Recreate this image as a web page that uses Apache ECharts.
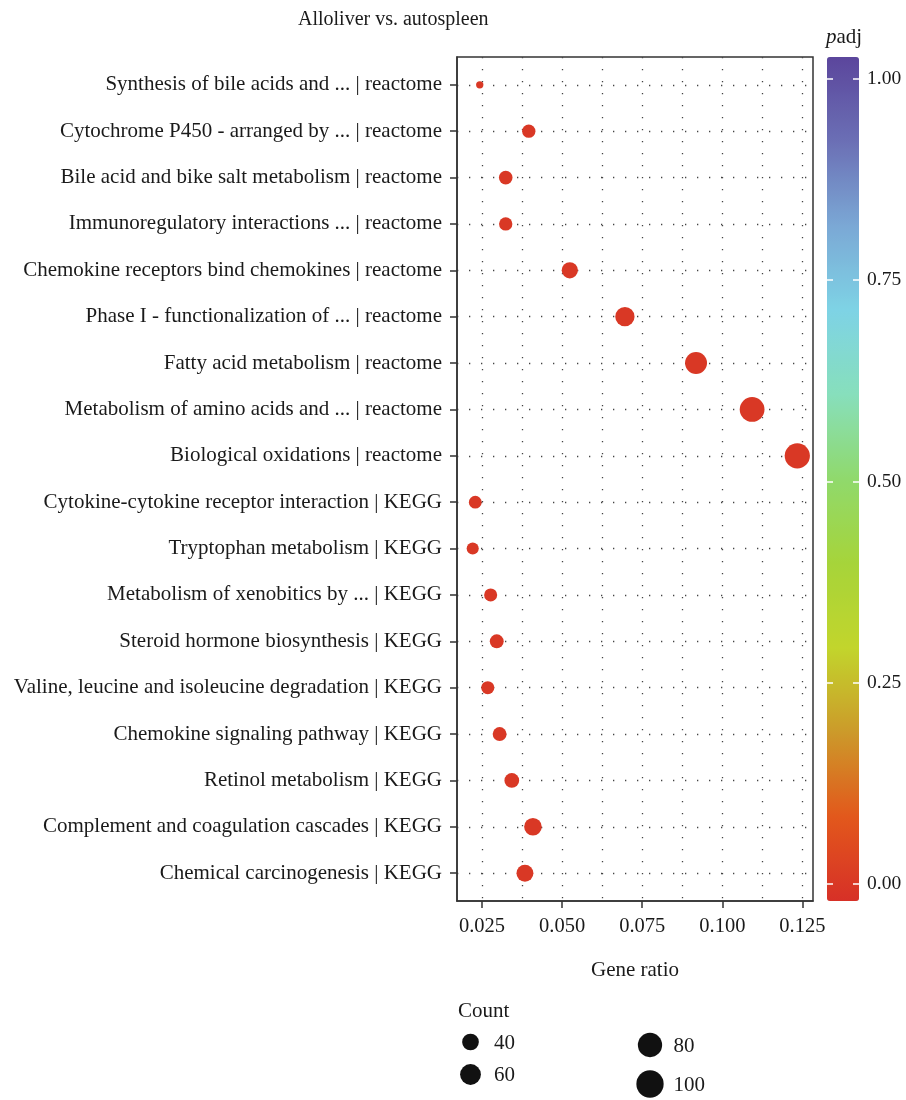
<!DOCTYPE html>
<html><head><meta charset="utf-8">
<script src="https://cdn.jsdelivr.net/npm/echarts@6/dist/echarts.min.js"></script>
<style>html,body{margin:0;padding:0;background:#fff}#c{width:906px;height:1100px}</style>
</head><body><div id="c"></div>
<script>
const categories = [
  'Synthesis of bile acids and ... | reactome',
  'Cytochrome P450 - arranged by ... | reactome',
  'Bile acid and bike salt metabolism | reactome',
  'Immunoregulatory interactions ... | reactome',
  'Chemokine receptors bind chemokines | reactome',
  'Phase I - functionalization of ... | reactome',
  'Fatty acid metabolism | reactome',
  'Metabolism of amino acids and ... | reactome',
  'Biological oxidations | reactome',
  'Cytokine-cytokine receptor interaction | KEGG',
  'Tryptophan metabolism | KEGG',
  'Metabolism of xenobitics by ... | KEGG',
  'Steroid hormone biosynthesis | KEGG',
  'Valine, leucine and isoleucine degradation | KEGG',
  'Chemokine signaling pathway | KEGG',
  'Retinol metabolism | KEGG',
  'Complement and coagulation cascades | KEGG',
  'Chemical carcinogenesis | KEGG'
];
const geneRatio = [0.0243, 0.0396, 0.0324, 0.0324, 0.0524, 0.0696, 0.0918, 0.1093, 0.1234,
                   0.0229, 0.0221, 0.0277, 0.0296, 0.0268, 0.0305, 0.0343, 0.0409, 0.0384];
const counts = [11, 27, 28, 27, 38, 52, 66, 83, 86, 25, 23, 26, 29, 26, 29, 32, 44, 41];
const padj = [0.001, 0.0001, 0.0001, 0.001, 0.0001, 0.0001, 0.0001, 0.0001, 0.0001,
              0.001, 0.001, 0.0001, 0.0001, 0.0001, 0.001, 0.0001, 0.0001, 0.0001];
const xTicks = [0.025, 0.05, 0.075, 0.1, 0.125];
const xMinorTicks = [0.0375, 0.0625, 0.0875, 0.1125];
const colorTicks = [0, 0.25, 0.5, 0.75, 1];
const countBreaks = [40, 60, 80, 100];

const FONT = 'Liberation Serif';
const FS = 21;
const TXT = '#1a1a1a';
const sizeOf = c => Math.sqrt(7.77 * (c - 4.1));
const dotted = { color: '#444', width: 1.3, type: [1.3, 10.7] };

const chart = echarts.init(document.getElementById('c'));

const legendGraphics = [
  { type: 'text', left: 458, top: 1001, style: { text: 'Count', font: FS + 'px ' + FONT, fill: TXT } }
];
const legendPos = [[470.5, 1042], [470.5, 1074.5], [650, 1045], [650, 1084]];
countBreaks.forEach((b, i) => {
  const [cx, cy] = legendPos[i];
  legendGraphics.push({ type: 'circle', shape: { cx, cy, r: sizeOf(b) / 2 }, style: { fill: '#111' } });
  legendGraphics.push({ type: 'text', x: cx + 23.5, y: cy + 1, style: { text: String(b), font: FS + 'px ' + FONT, fill: TXT, verticalAlign: 'middle' } });
});
legendGraphics.push({
  type: 'text', x: 844, y: 37,
  style: { text: '{i|p}adj', align: 'center', verticalAlign: 'middle', fill: TXT,
    font: FS + 'px ' + FONT,
    rich: { i: { fontStyle: 'italic', fontFamily: FONT, fontSize: FS, fill: TXT } } }
});

chart.setOption({
  backgroundColor: '#fff',
  animation: false,
  title: { text: 'Alloliver vs. autospleen', left: 298, top: 10, padding: 0,
    textStyle: { fontFamily: FONT, fontSize: 20, fontWeight: 'normal', color: TXT } },
  grid: [
    { left: 457, top: 57, width: 356, height: 844, show: true, borderColor: '#333', borderWidth: 1.5,
      outerBoundsMode: 'none', containLabel: false },
    { left: 827, top: 57, width: 32, height: 844, show: false, outerBoundsMode: 'none', containLabel: false }
  ],
  xAxis: [
    { type: 'value', gridIndex: 0, min: 0.0172, max: 0.1283,
      name: 'Gene ratio', nameLocation: 'middle', nameGap: 59,
      nameTextStyle: { fontFamily: FONT, fontSize: FS, color: TXT },
      axisLine: { show: true, onZero: false, lineStyle: { color: '#333', width: 1.5 } },
      axisTick: { show: true, inside: false, length: 7, lineStyle: { color: '#333', width: 1.5 }, customValues: xTicks },
      axisLabel: { customValues: xTicks, margin: 15, fontFamily: FONT, fontSize: 20.5, color: TXT,
        formatter: v => v.toFixed(3) },
      splitLine: { show: true, lineStyle: dotted } },
    { type: 'value', gridIndex: 0, min: 0.0172, max: 0.1283, position: 'bottom',
      axisLine: { show: false, onZero: false }, axisTick: { show: false, customValues: xMinorTicks },
      axisLabel: { show: false, customValues: xMinorTicks },
      splitLine: { show: true, lineStyle: dotted } },
    { type: 'value', gridIndex: 1, show: false }
  ],
  yAxis: [
    { type: 'value', gridIndex: 0, inverse: true, min: -0.6, max: 17.6,
      axisLine: { show: true, onZero: false, lineStyle: { color: '#333', width: 1.5 } },
      axisTick: { show: true, length: 7, lineStyle: { color: '#333', width: 1.5 }, customValues: categories.map((c, i) => i) },
      axisLabel: { customValues: categories.map((c, i) => i), margin: 15, fontFamily: FONT, fontSize: FS, color: TXT,
        formatter: v => categories[Math.round(v)] },
      splitLine: { show: true, lineStyle: dotted } },
    { type: 'value', gridIndex: 1, position: 'right', min: -0.021, max: 1.027, z: 10,
      axisLine: { show: false, onZero: false },
      axisTick: { show: true, inside: true, length: 6, lineStyle: { color: '#fff', width: 1.5 }, customValues: colorTicks },
      axisLabel: { customValues: colorTicks, margin: 8, fontFamily: FONT, fontSize: 19.5, color: TXT,
        formatter: v => v.toFixed(2) },
      splitLine: { show: false } },
    { type: 'value', gridIndex: 1, position: 'left', min: -0.021, max: 1.027, z: 10,
      axisLine: { show: false, onZero: false },
      axisTick: { show: true, inside: true, length: 6, lineStyle: { color: '#fff', width: 1.5 }, customValues: colorTicks },
      axisLabel: { show: false, customValues: colorTicks },
      splitLine: { show: false } }
  ],
  visualMap: {
    type: 'continuous', seriesIndex: 0, dimension: 2, min: -0.021, max: 1.027,
    left: 827, top: 57, itemWidth: 32, itemHeight: 844, padding: 0,
    calculable: false, text: null, showLabel: false, hoverLink: false,
    inRange: { color: ['#D73027', '#E2581C', '#CC9A2A', '#C2D52C', '#A6D43A', '#90D96C',
                       '#87DFBC', '#7ED3E5', '#7BA8D5', '#6B6FB5', '#5B469C'] }
  },
  graphic: legendGraphics,
  series: [{
    type: 'scatter', xAxisIndex: 0, yAxisIndex: 0, z: 5,
    data: categories.map((c, i) => [geneRatio[i], i, padj[i], counts[i]]),
    symbolSize: v => sizeOf(v[3]),
    itemStyle: { opacity: 1 }
  }]
});
</script></body></html>
